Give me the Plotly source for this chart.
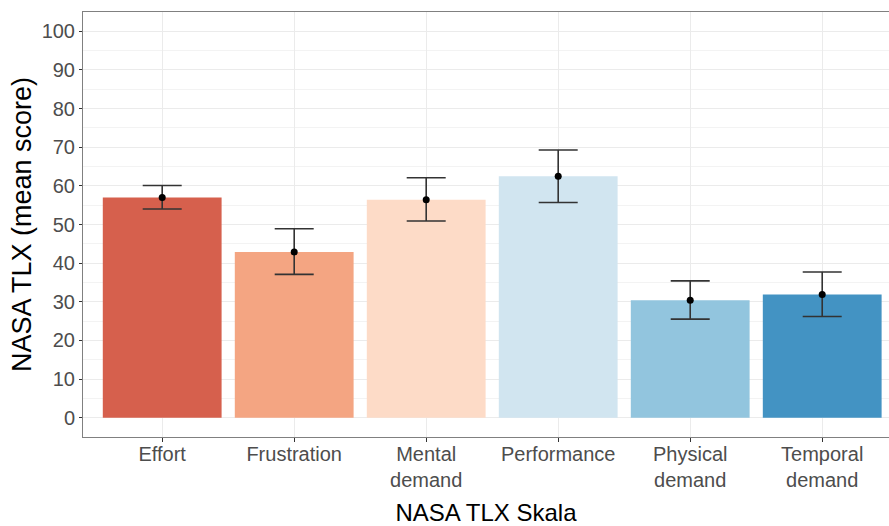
import plotly.graph_objects as go

categories = ["Effort", "Frustration", "Mental<br>demand", "Performance", "Physical<br>demand", "Temporal<br>demand"]
means = [57.0, 42.9, 56.4, 62.5, 30.4, 31.9]
upper = [60.1, 48.9, 62.1, 69.3, 35.4, 37.7]
lower = [54.0, 37.1, 50.9, 55.7, 25.5, 26.2]
colors = ["#D6604D", "#F4A582", "#FDDBC7", "#D1E5F0", "#92C5DE", "#4393C3"]
y_ticks = list(range(0, 101, 10))

xpos = list(range(1, len(categories) + 1))
err_plus = [u - m for u, m in zip(upper, means)]
err_minus = [m - l for m, l in zip(means, lower)]

fig = go.Figure()
fig.add_trace(go.Bar(
    x=xpos, y=means, width=0.9,
    marker=dict(color=colors, line=dict(width=0)),
    showlegend=False, hoverinfo="skip",
))
fig.add_trace(go.Scatter(
    x=xpos, y=means, mode="markers",
    marker=dict(color="black", size=7),
    error_y=dict(type="data", symmetric=False, array=err_plus, arrayminus=err_minus,
                 color="#333333", thickness=1.6, width=19.5),
    showlegend=False,
))

font_family = "Liberation Sans, Arial, sans-serif"
fig.update_layout(
    width=889, height=526,
    margin=dict(l=83, r=0, t=12, b=89),
    plot_bgcolor="white", paper_bgcolor="white",
    font=dict(family=font_family),
    xaxis=dict(
        range=[0.4, 6.506],
        tickmode="array", tickvals=xpos, ticktext=categories,
        tickfont=dict(size=20, color="#4D4D4D"),
        ticklabelstandoff=-5,
        showgrid=True, gridcolor="#EBEBEB", gridwidth=1,
        showline=True, linecolor="#808080", linewidth=1, mirror=True,
        ticks="outside", ticklen=4, tickcolor="#333333",
        title=dict(text="NASA TLX Skala", font=dict(size=24, color="black"), standoff=15),
        zeroline=False,
    ),
    yaxis=dict(
        range=[-5, 105],
        tickmode="array", tickvals=y_ticks,
        tickfont=dict(size=20, color="#4D4D4D"),
        showgrid=True, gridcolor="#EBEBEB", gridwidth=1,
        minor=dict(dtick=5, tick0=0, showgrid=True, gridcolor="#F3F3F3", gridwidth=1),
        showline=True, linecolor="#808080", linewidth=1,
        ticks="outside", ticklen=3, tickcolor="#333333",
        title=dict(text="NASA TLX (mean score)", font=dict(size=27, color="black"), standoff=2),
        zeroline=False,
    ),
)

fig.write_html("out.html")
